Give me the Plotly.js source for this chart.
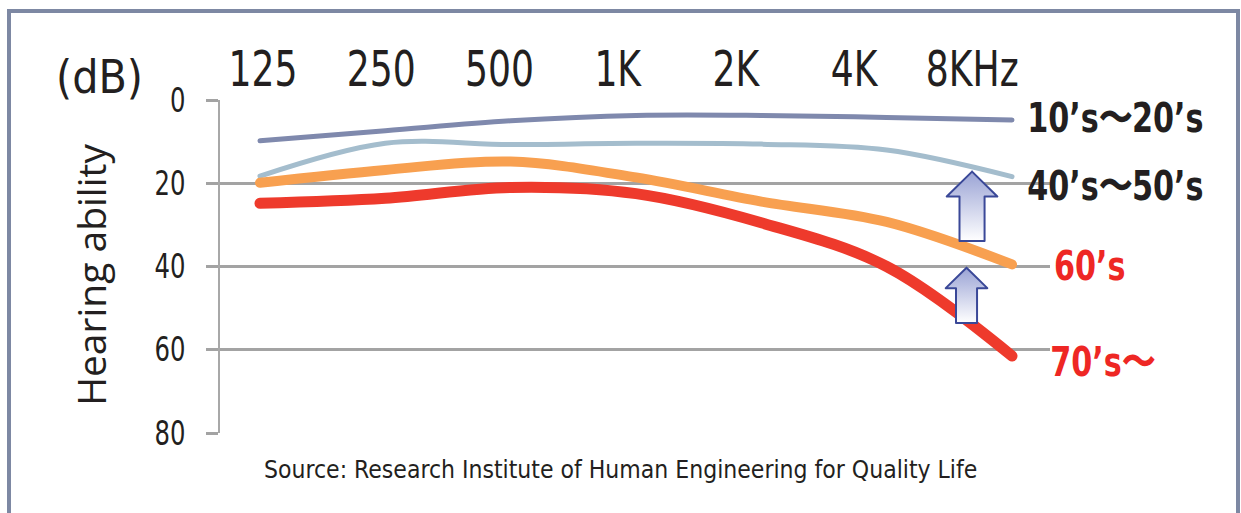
<!DOCTYPE html>
<html>
<head>
<meta charset="utf-8">
<script src="https://cdn.plot.ly/plotly-3.0.1.min.js"></script>
<style>
  html, body { margin: 0; padding: 0; background: #ffffff; }
  #chart { position: absolute; left: 0; top: 0; width: 1241px; height: 513px; }
  #frame { position: absolute; left: 7px; top: 9px; width: 1225px; height: 600px;
           border: 4px solid #7d88a3; pointer-events: none; }
  path.js-line { stroke-linecap: round !important; stroke-linejoin: round !important; }
</style>
</head>
<body>
<div id="chart"></div>
<div id="frame"></div>
<script>
// ---- data ----
var freqLabels = ['125', '250', '500', '1K', '2K', '4K', '8KHz'];
var teens20s   = [9.8, 7.4, 5.0, 3.7, 3.7, 4.2, 4.8];
var forties50s = [18.3, 10.4, 10.7, 10.4, 10.6, 12.0, 18.4];
var sixties    = [19.9, 16.8, 14.8, 18.6, 24.4, 29.3, 39.5];
var seventies  = [24.8, 23.6, 21.0, 22.5, 29.5, 40.0, 61.5];
var seriesNames = ['10’s〜20’s', '40’s〜50’s', '60’s', '70’s〜'];
var yTicks = [0, 20, 40, 60, 80];

var FONT = '"DejaVu Sans Condensed", "DejaVu Sans", sans-serif';
var idx = freqLabels.map(function (_, i) { return i; });

function lineTrace(vals, color, width) {
  return {
    x: idx, y: vals, xaxis: 'x2', yaxis: 'y', type: 'scatter', mode: 'lines',
    line: { color: color, width: width, shape: 'spline', smoothing: 1 },
    hoverinfo: 'skip', showlegend: false
  };
}

// block arrow outline, relative to an anchor (centre x, tip y) in data units
function arrowTrace(cx, tipY, headHalf, shaftHalf, headLen, totalLen) {
  var xs = [cx, cx + headHalf, cx + shaftHalf, cx + shaftHalf, cx - shaftHalf, cx - shaftHalf, cx - headHalf, cx];
  var ys = [tipY, tipY + headLen, tipY + headLen, tipY + totalLen, tipY + totalLen, tipY + headLen, tipY + headLen, tipY];
  return {
    x: xs, y: ys, xaxis: 'x2', yaxis: 'y', type: 'scatter', mode: 'lines',
    fill: 'toself',
    fillgradient: { type: 'vertical', colorscale: [[0, '#ffffff'], [1, '#9aa3d5']] },
    line: { color: '#3a4898', width: 2 },
    hoverinfo: 'skip', showlegend: false
  };
}

// invisible carrier so the frequency label axis is drawn
var axisCarrier = {
  x: idx, y: idx.map(function () { return 0; }), xaxis: 'x', yaxis: 'y',
  type: 'scatter', mode: 'markers', marker: { opacity: 0, size: 1 },
  hoverinfo: 'skip', showlegend: false
};

var traces = [
  axisCarrier,
  lineTrace(teens20s, '#7f89ad', 5),
  lineTrace(forties50s, '#a4bdcd', 5),
  lineTrace(sixties, '#f8a050', 10),
  lineTrace(seventies, '#ee3a2c', 11),
  arrowTrace(5.681, 17.2, 0.202, 0.100, 6.0, 16.7),
  arrowTrace(5.637, 40.3, 0.166, 0.084, 4.9, 13.3)
];

var last = freqLabels.length - 1;
var labelY = [4.3, 20.6, 39.9, 63.0];
var labelColors = ['#231f20', '#231f20', '#ee2724', '#ee2724'];
var labelShift = [13, 13, 40, 36];

var annotations = seriesNames.map(function (n, i) {
  return {
    text: '<b>' + n + '</b>', xref: 'x2', yref: 'y', x: last, y: labelY[i],
    xanchor: 'left', yanchor: 'middle', xshift: labelShift[i], showarrow: false,
    font: { family: FONT, size: 41, color: labelColors[i] }
  };
});
annotations.push({
  text: '(dB)', xref: 'paper', yref: 'paper', x: -0.1446, y: 1.069,
  xanchor: 'center', yanchor: 'middle', showarrow: false,
  font: { family: FONT, size: 46, color: '#231f20' }
});
annotations.push({
  text: 'Hearing ability', xref: 'paper', yref: 'paper', x: -0.157, y: 0.474,
  xanchor: 'center', yanchor: 'middle', textangle: -90, showarrow: false,
  font: { family: '"Open Sans", sans-serif', size: 39, color: '#231f20' }
});
annotations.push({
  text: 'Source: Research Institute of Human Engineering for Quality Life',
  xref: 'paper', yref: 'paper', x: 0.483, y: -0.111,
  xanchor: 'center', yanchor: 'middle', showarrow: false,
  font: { family: FONT, size: 24.5, color: '#231f20' }
});

var layout = {
  width: 1241, height: 513,
  margin: { l: 220, r: 191, t: 100, b: 80, pad: 0 },
  paper_bgcolor: '#ffffff', plot_bgcolor: '#ffffff',
  showlegend: false,
  xaxis: {
    type: 'linear', side: 'top', range: [-0.364, 6.658],
    tickmode: 'array', tickvals: idx, ticktext: freqLabels,
    showgrid: false, zeroline: false, showline: false, ticks: '',
    ticklabelstandoff: 3,
    tickfont: { family: FONT, size: 49, color: '#231f20' },
    fixedrange: true
  },
  xaxis2: {
    type: 'linear', overlaying: 'x', range: [-0.319, 6.303],
    visible: false, fixedrange: true
  },
  yaxis: {
    range: [80, 0], tickmode: 'array', tickvals: yTicks,
    showgrid: true, gridcolor: '#a3a3a3', gridwidth: 3,
    zeroline: false, showline: true, linecolor: '#a8a8a8', linewidth: 2,
    ticks: 'outside', ticklen: 12, tickwidth: 3, tickcolor: '#a3a3a3',
    ticklabelstandoff: 14,
    tickfont: { family: FONT, size: 33, color: '#231f20' },
    fixedrange: true
  },
  annotations: annotations
};

// narrow the condensed face horizontally to match the reference's narrow type
function narrow(el, s, mode) {
  var bb = el.getBBox();
  var ax = mode === 'left' ? bb.x : (mode === 'right' ? bb.x + bb.width : bb.x + bb.width / 2);
  var t = el.getAttribute('transform') || '';
  el.setAttribute('transform', t + ' translate(' + ax + ',0) scale(' + s + ',1) translate(' + (-ax) + ',0)');
}

Plotly.newPlot('chart', traces, layout, { displayModeBar: false, staticPlot: true }).then(function (gd) {
  gd.querySelectorAll('.xtick text').forEach(function (el) { narrow(el, 0.82, 'center'); });
  gd.querySelectorAll('.ytick text').forEach(function (el) { narrow(el, 0.82, 'right'); });
  gd.querySelectorAll('g.annotation').forEach(function (g) {
    var i = +g.getAttribute('data-index');
    if (i < 4) {
      var el = g.querySelector('text');
      if (el) narrow(el, 0.82, 'left');
    }
  });
});
</script>
</body>
</html>
